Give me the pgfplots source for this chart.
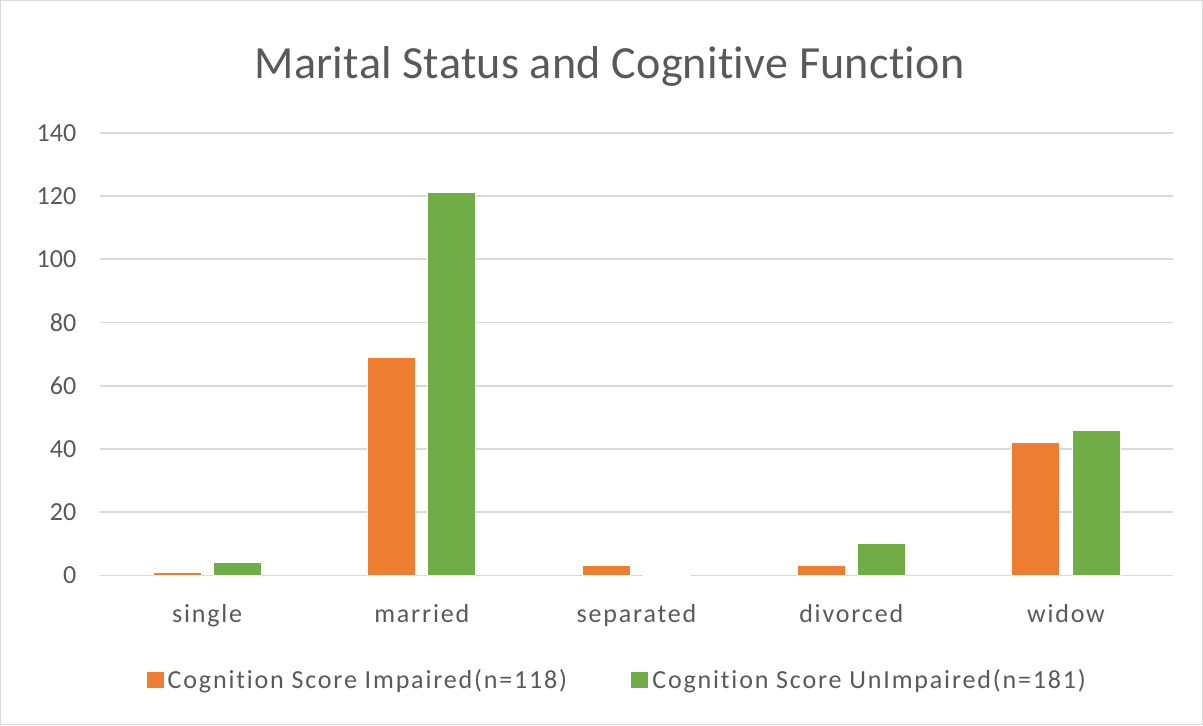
\documentclass[border=0pt]{standalone}
\usepackage{pgfplots}
\pgfplotsset{compat=1.18}
\usepackage{fontspec}
\setmainfont{Carlito}[Ligatures={NoCommon}]
\newfontfamily\spaced{Carlito}[Ligatures={NoCommon}, LetterSpace=7]
\newfontfamily\tspaced{Carlito}[Ligatures={NoCommon}, LetterSpace=0.6]
\definecolor{orng}{HTML}{ED7D31}
\definecolor{grn}{HTML}{70AD47}
\definecolor{txt}{HTML}{595959}
\definecolor{grd}{HTML}{D9D9D9}
\begin{document}
\begin{tikzpicture}
\draw[grd, line width=0.6pt] (-49.5pt,-74.5pt) rectangle (550.5pt,287pt);
\begin{axis}[
  at={(0,0)}, anchor=south west,
  scale only axis, width=536pt, height=221pt,
  xmin=-0.5, xmax=4.5, ymin=0, ymax=140,
  ytick={0,20,...,140},
  xtick={0,1,2,3,4},
  xticklabels={single,married,separated,divorced,widow},
  axis line style={draw=none},
  major tick length=0pt,
  ymajorgrids, grid style={grd, line width=0.8pt},
  tick label style={font=\fontsize{13}{15}\selectfont, text=txt},
  /pgf/number format/assume math mode=true,
  yticklabel style={anchor=east, inner sep=0pt, xshift=-11.5pt},
  xticklabel style={anchor=base, yshift=-23.5pt, font=\spaced\fontsize{13}{15}\selectfont},
  title={Marital Status and Cognitive Function},
  title style={font=\tspaced\fontsize{23}{27}\selectfont, text=txt, anchor=base, at={(0.475,1)}, yshift=21pt},
  ybar, bar width=24pt,
  legend columns=2,
  legend style={draw=none, fill=none, font=\spaced\fontsize{13}{15}\selectfont, text=txt, at={(0.483,0)}, anchor=north, yshift=-42.5pt, /tikz/every even column/.append style={column sep=30pt}},
  legend image code/.code={\fill[#1, draw=none] (0pt,-4pt) rectangle (8.5pt,4pt);},
]
\addplot[fill=orng, draw=white, line width=0.5pt, bar shift=-15pt] coordinates {(0,1) (1,69) (2,3) (3,3) (4,42)};
\addplot[fill=grn, draw=white, line width=0.5pt, bar shift=15pt] coordinates {(0,4) (1,121) (2,0) (3,10) (4,46)};
\legend{Cognition Score Impaired(n=118), Cognition Score UnImpaired(n=181)}
\end{axis}
\end{tikzpicture}
\end{document}
